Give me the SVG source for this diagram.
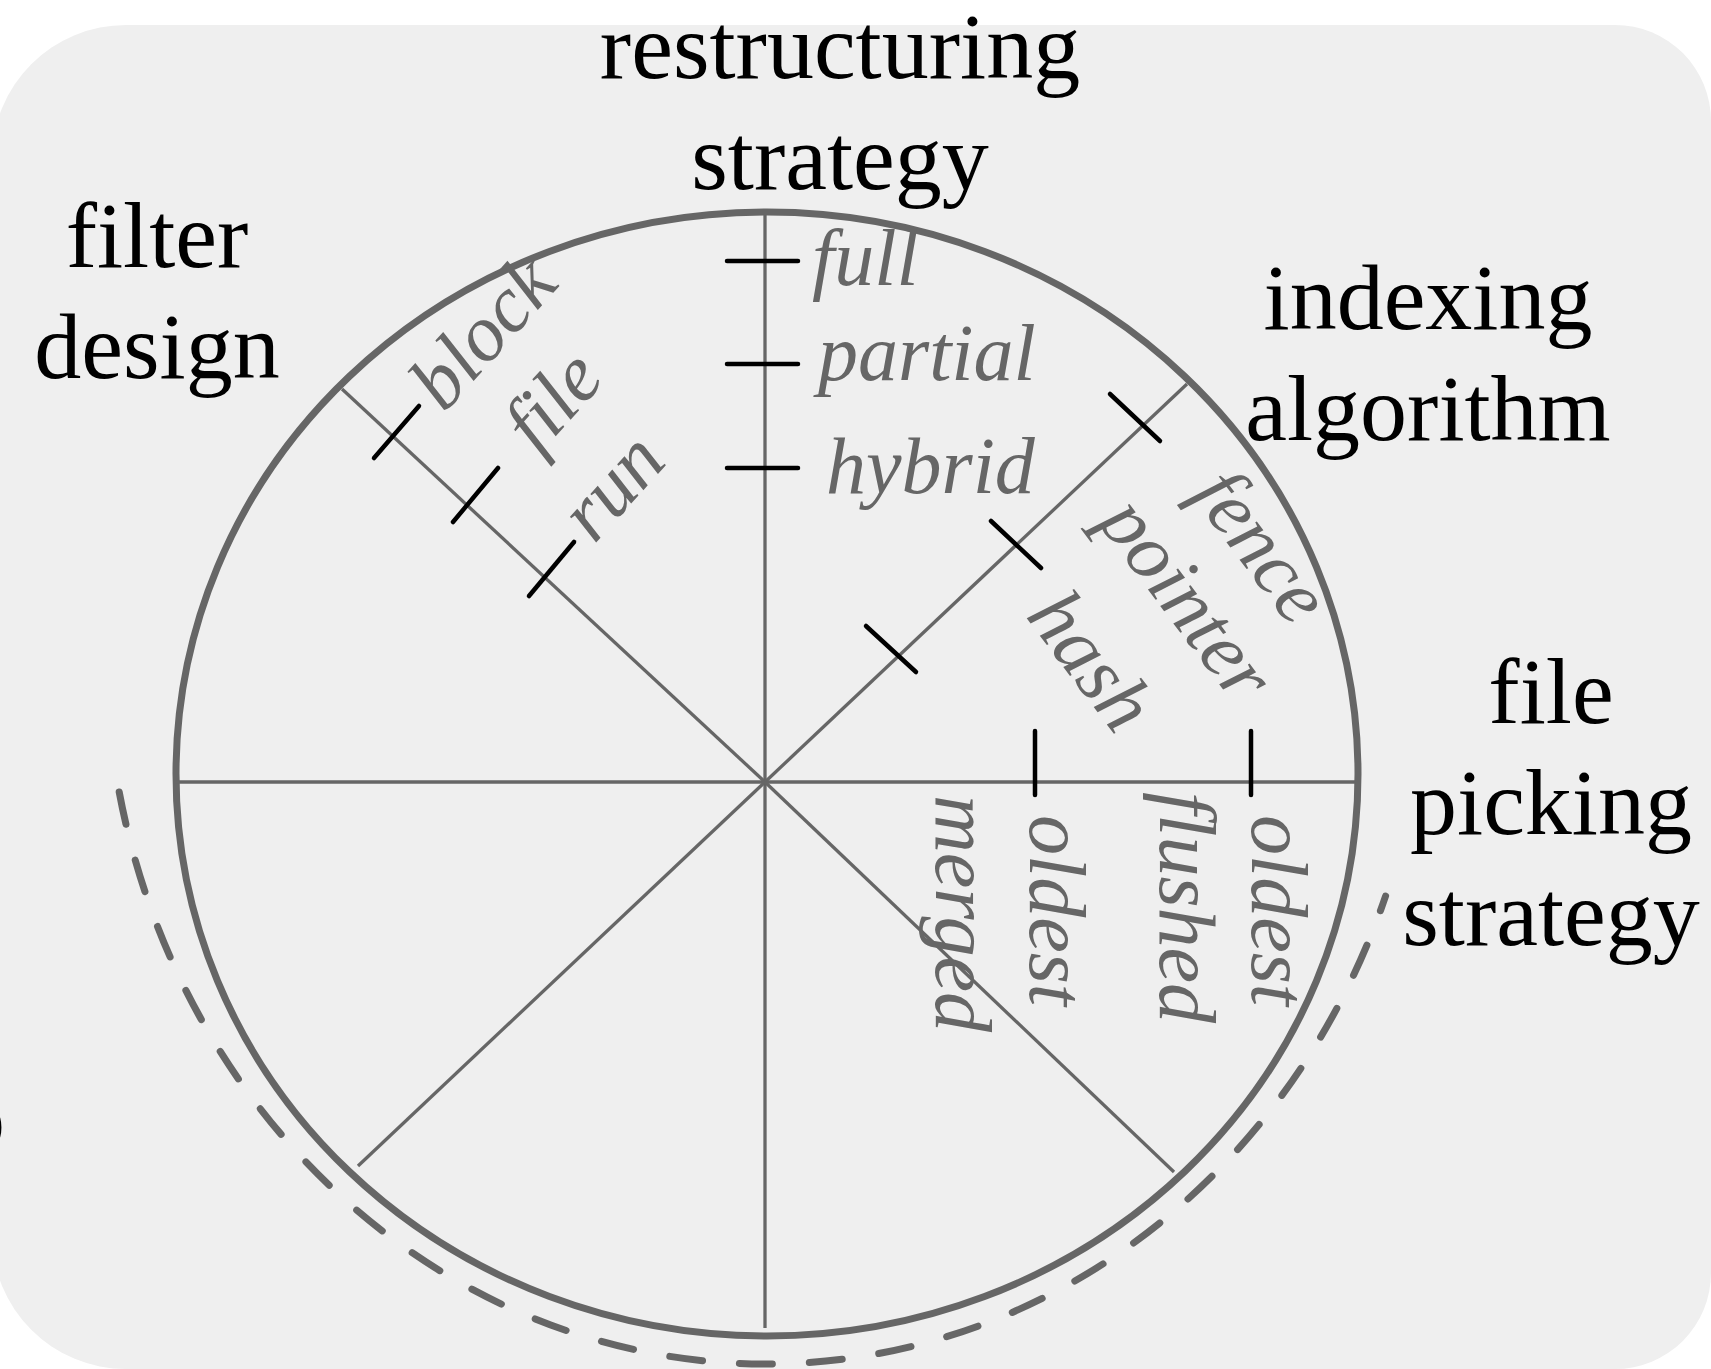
<svg xmlns="http://www.w3.org/2000/svg" width="1711" height="1369" viewBox="0 0 1711 1369">
  <defs>
    <style>
      .title { font-family: "Liberation Serif", "Times New Roman", serif; font-size: 94px; fill: #000; text-anchor: middle; }
      .opt { font-family: "Liberation Serif", "Times New Roman", serif; font-style: italic; font-size: 80px; fill: #666; }
      .rim { fill: none; stroke: #666; stroke-width: 7; }
      .spoke { stroke: #666; stroke-width: 3.3; fill: none; }
      .tick { stroke: #000; stroke-width: 4.5; stroke-linecap: round; }
      .scope { fill: none; stroke: #666; stroke-width: 7; stroke-linecap: round; stroke-dasharray: 33 37; }
    </style>
  </defs>

  <rect width="1711" height="1369" fill="#ffffff"/>
  <!-- panel -->
  <path d="M 126 25 H 1615 A 96 96 0 0 1 1711 121 V 1273 A 96 96 0 0 1 1615 1369 H 126 A 134 134 0 0 1 -8 1235 V 159 A 134 134 0 0 1 126 25 Z" fill="#efefef"/>

  <!-- wheel -->
  <g id="wheel">
    <ellipse class="rim" cx="767" cy="774" rx="591" ry="562"/>
  </g>

  <g id="connectors">
    <line class="spoke" x1="176" y1="782" x2="1356" y2="782"/>
    <line class="spoke" x1="765" y1="214" x2="765" y2="1328"/>
    <line class="spoke" x1="765" y1="782" x2="342" y2="389"/>
    <line class="spoke" x1="765" y1="782" x2="1187" y2="384"/>
    <line class="spoke" x1="765" y1="782" x2="358" y2="1166"/>
    <line class="spoke" x1="765" y1="782" x2="1174" y2="1172"/>
    <!-- dashed scope arc -->
    <path class="scope" d="M 119.2 792 A 660 714 0 0 0 1385.6 896"/>
  </g>

  <!-- restructuring strategy axis -->
  <g id="restructuring">
    <text class="title" x="840" y="78">restructuring</text>
    <text class="title" x="840" y="189">strategy</text>
    <line class="tick" x1="727" y1="261" x2="798" y2="261"/>
    <line class="tick" x1="727" y1="364" x2="798" y2="364"/>
    <line class="tick" x1="727" y1="468" x2="798" y2="468"/>
    <text class="opt" x="812" y="285">full</text>
    <text class="opt" x="818" y="380">partial</text>
    <text class="opt" x="826" y="493">hybrid</text>
  </g>

  <!-- filter design axis -->
  <g id="filter">
    <text class="title" x="157" y="267">filter</text>
    <text class="title" x="157" y="378">design</text>
    <line class="tick" x1="374" y1="458" x2="419" y2="406"/>
    <line class="tick" x1="453" y1="522" x2="498" y2="468"/>
    <line class="tick" x1="529" y1="596" x2="574" y2="542"/>
    <text class="opt" transform="translate(444 414) rotate(-48)">block</text>
    <text class="opt" transform="translate(538 456) rotate(-48)">file</text>
    <text class="opt" transform="translate(594 545) rotate(-48)">run</text>
  </g>

  <!-- indexing algorithm axis -->
  <g id="indexing">
    <text class="title" x="1428" y="329">indexing</text>
    <text class="title" x="1428" y="440">algorithm</text>
    <line class="tick" x1="1110" y1="394" x2="1160" y2="441"/>
    <line class="tick" x1="991" y1="521" x2="1041" y2="568"/>
    <line class="tick" x1="866" y1="626" x2="916" y2="672"/>
    <text class="opt" transform="translate(1190 494) rotate(53)">fence</text>
    <text class="opt" transform="translate(1097 522) rotate(53)">pointer</text>
    <text class="opt" transform="translate(1025 616) rotate(53)">hash</text>
  </g>

  <!-- file picking strategy axis -->
  <g id="picking">
    <text class="title" x="1551" y="723">file</text>
    <text class="title" x="1551" y="834">picking</text>
    <text class="title" x="1551" y="945">strategy</text>
    <line class="tick" x1="1035" y1="731" x2="1035" y2="795"/>
    <line class="tick" x1="1251" y1="731" x2="1251" y2="795"/>
    <text class="opt" transform="translate(1030 815) rotate(90)">oldest</text>
    <text class="opt" transform="translate(936 795) rotate(90)">merged</text>
    <text class="opt" transform="translate(1252 815) rotate(90)">oldest</text>
    <text class="opt" transform="translate(1160 792) rotate(90)">flushed</text>
  </g>

  <!-- label cut at the left edge -->
  <text class="title" x="-42" y="1149" style="text-anchor:start">o</text>
</svg>
